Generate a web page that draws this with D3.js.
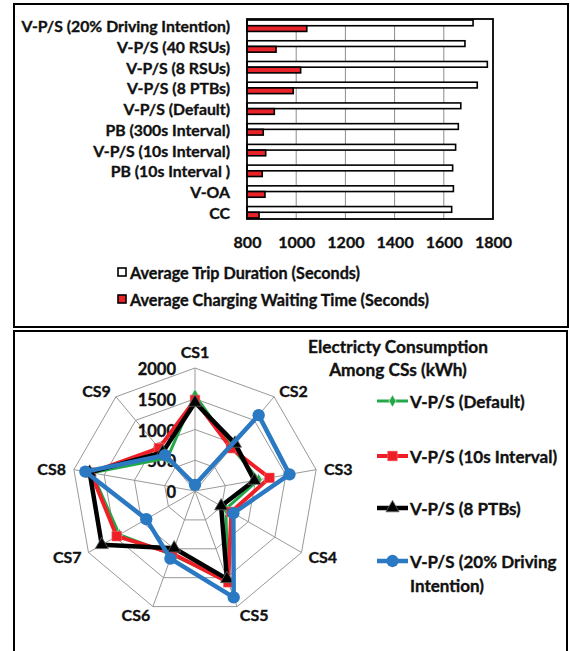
<!DOCTYPE html>
<html><head><meta charset="utf-8">
<script src="https://cdn.jsdelivr.net/npm/d3@7"></script>
<style>
html,body{margin:0;padding:0;background:#fff;}
svg{display:block;}
text{font-family:Lato,"Open Sans",sans-serif;font-weight:bold;fill:#111;stroke:#111;stroke-width:0.35px;}
</style></head>
<body>
<svg id="c" width="570" height="651"></svg>
<script>
// ---- Bar chart data ----
const barCategories = ["V-P/S (20% Driving Intention)","V-P/S (40 RSUs)","V-P/S (8 RSUs)","V-P/S (8 PTBs)","V-P/S (Default)","PB (300s Interval)","V-P/S (10s Interval)","PB (10s Interval )","V-OA","CC"];
const tripDuration = [1719,1686,1777,1736,1669,1659,1648,1636,1639,1632];
const chargingWait = [1043,918,1018,988,911,866,876,862,873,849];
const barTicks = [800,1000,1200,1400,1600,1800];
const barLegend = ["Average Trip Duration (Seconds)","Average Charging Waiting Time (Seconds)"];

// ---- Radar data ----
const csLabels = ["CS1","CS2","CS3","CS4","CS5","CS6","CS7","CS8","CS9"];
const radarTicks = [0,500,1000,1500,2000];
const seriesNames = ["V-P/S (Default)","V-P/S (10s Interval)","V-P/S (8 PTBs)","V-P/S (20% Driving Intention)"];
const sDefault  = [1560,930,1050,580,1550,1100,1420,1700,700];
const s10s      = [1480,910,1230,680,1580,1080,1470,1720,910];
const s8PTBs    = [1440,1010,980,490,1520,990,1750,1740,820];
const s20DI     = [100,1610,1560,720,1840,1170,915,1810,760];
const radarTitle = ["Electricty Consumption","Among CSs (kWh)"];

const svg = d3.select("#c");

// Panels
svg.append("rect").attr("x",14).attr("y",4).attr("width",554).attr("height",323)
  .attr("fill","none").attr("stroke","#000").attr("stroke-width",2);
svg.append("rect").attr("x",14).attr("y",331).attr("width",553).attr("height",340)
  .attr("fill","none").attr("stroke","#000").attr("stroke-width",2);

// ---- Bar chart ----
const x = d3.scaleLinear().domain([800,1800]).range([247,493]);
const y = d3.scaleBand().domain(barCategories).range([19,219]).paddingInner(0.45).paddingOuter(0.05);
const g1 = svg.append("g");
g1.selectAll("line.grid").data(barTicks.slice(1,-1)).enter().append("line")
  .attr("x1",d=>x(d)).attr("x2",d=>x(d)).attr("y1",19).attr("y2",219)
  .attr("stroke","#8c8c8c").attr("stroke-width",1);
const bh = y.bandwidth()/2;
g1.selectAll("rect.trip").data(barCategories).enter().append("rect")
  .attr("x",x(800)).attr("y",d=>y(d))
  .attr("width",(d,i)=>x(tripDuration[i])-x(800)).attr("height",bh)
  .attr("fill","#fff").attr("stroke","#000").attr("stroke-width",1.6);
g1.selectAll("rect.wait").data(barCategories).enter().append("rect")
  .attr("x",x(800)).attr("y",d=>y(d)+bh)
  .attr("width",(d,i)=>x(chargingWait[i])-x(800)).attr("height",bh)
  .attr("fill","#e8232a").attr("stroke","#000").attr("stroke-width",1.6);
g1.append("rect").attr("x",247).attr("y",19).attr("width",246).attr("height",200)
  .attr("fill","none").attr("stroke","#000").attr("stroke-width",1.8);
g1.selectAll("text.cat").data(barCategories).enter().append("text")
  .attr("x",230).attr("y",d=>y(d)+y.bandwidth()/2).attr("text-anchor","end")
  .attr("dominant-baseline","central").attr("font-size",15.8).text(d=>d);
const xAxis = d3.axisBottom(x).tickValues(barTicks).tickSize(0).tickPadding(0).tickFormat(d3.format("d"));
const ax = g1.append("g").attr("transform","translate(0,237)").call(xAxis);
ax.select(".domain").remove();
ax.selectAll("text").attr("font-size",16).attr("font-family","Lato").attr("font-weight","bold").attr("fill","#111");

// Bar legend
const lg = svg.append("g");
lg.selectAll("rect").data(barLegend).enter().append("rect")
  .attr("x",118).attr("y",(d,i)=>268+i*27).attr("width",8).attr("height",8)
  .attr("fill",(d,i)=>i===0?"#fff":"#e8232a").attr("stroke","#000").attr("stroke-width",1.6);
lg.selectAll("text").data(barLegend).enter().append("text")
  .attr("x",130).attr("y",(d,i)=>272+i*27).attr("dominant-baseline","central")
  .attr("font-size",16.2).text(d=>d);

// ---- Radar ----
const cx=195, cy=491;
const r = d3.scaleLinear().domain([0,2000]).range([0,123]);
const ang = d3.scaleLinear().domain([0,csLabels.length]).range([0,2*Math.PI]);
const pt = (i,v)=>[cx+r(v)*Math.sin(ang(i)), cy-r(v)*Math.cos(ang(i))];
const g2 = svg.append("g");
radarTicks.slice(1).forEach(t=>{
  g2.append("polygon").attr("points",csLabels.map((c,i)=>pt(i,t).join(",")).join(" "))
    .attr("fill","none").attr("stroke","#999").attr("stroke-width",1);
});
csLabels.forEach((c,i)=>{
  const p = pt(i,2000);
  g2.append("line").attr("x1",cx).attr("y1",cy).attr("x2",p[0]).attr("y2",p[1])
    .attr("stroke","#999").attr("stroke-width",1);
});
g2.selectAll("text.rt").data(radarTicks).enter().append("text")
  .attr("x",176).attr("y",d=>cy-r(d)+1).attr("text-anchor","end").attr("dominant-baseline","central")
  .attr("font-size",16.5).text(d=>d);
g2.selectAll("text.cs").data(csLabels).enter().append("text")
  .each(function(d,i){
    const p = pt(i,2000), s = Math.sin(ang(i)), c = Math.cos(ang(i));
    const t = d3.select(this);
    if(Math.abs(s)<0.05){
      t.attr("x",p[0]).attr("y",p[1]-17).attr("text-anchor","middle");
    } else {
      t.attr("x",p[0]+8*s).attr("y",p[1]-8*c).attr("text-anchor", s>0?"start":"end");
    }
  })
  .attr("dominant-baseline","central").attr("font-size",16).text(d=>d);

const series = [
  {name:seriesNames[0], vals:sDefault, color:"#25a84a", w:3, marker:"diamond"},
  {name:seriesNames[1], vals:s10s, color:"#ee1f26", w:4, marker:"square"},
  {name:seriesNames[2], vals:s8PTBs, color:"#000000", w:4.5, marker:"triangle"},
  {name:seriesNames[3], vals:s20DI, color:"#2a79c2", w:4.5, marker:"circle"}
];
const line = d3.lineRadial().angle((d,i)=>ang(i)).radius(d=>r(d)).curve(d3.curveLinearClosed);
const sym = {diamond:d3.symbolDiamond, square:d3.symbolSquare, triangle:d3.symbolTriangle, circle:d3.symbolCircle};
const symSize = {diamond:45, square:95, triangle:75, circle:120};
function marker(g, s, xx, yy){
  const p = g.append("path").attr("d",d3.symbol().type(sym[s.marker]).size(symSize[s.marker])())
    .attr("transform",`translate(${xx},${yy})`).attr("fill",s.color);
  if(s.marker==="diamond") p.attr("stroke","#fff").attr("stroke-width",0.6);
  if(s.marker==="triangle") p.attr("stroke","#666").attr("stroke-width",0.8);
  if(s.marker==="square") p.attr("stroke","#f08080").attr("stroke-width",0.5);
}
series.forEach(s=>{
  const gs = g2.append("g");
  gs.append("path").attr("d",line(s.vals)).attr("transform",`translate(${cx},${cy})`)
    .attr("fill","none").attr("stroke",s.color).attr("stroke-width",s.w).attr("stroke-linejoin","round");
  s.vals.forEach((v,i)=>{ const p=pt(i,v); marker(gs,s,p[0],p[1]); });
});

// Radar title
svg.selectAll("text.title").data(radarTitle).enter().append("text")
  .attr("x",398).attr("y",(d,i)=>346+i*23).attr("text-anchor","middle").attr("dominant-baseline","central")
  .attr("font-size",17.3).text(d=>d);

// Radar legend
const legY = [401,456,508,561];
series.forEach((s,i)=>{
  const gl = svg.append("g");
  gl.append("line").attr("x1",377).attr("x2",408).attr("y1",legY[i]).attr("y2",legY[i])
    .attr("stroke",s.color).attr("stroke-width",s.w);
  marker(gl,s,392.5,legY[i]);
  const parts = i===3 ? ["V-P/S (20% Driving","Intention)"] : [s.name];
  parts.forEach((t,k)=>{
    gl.append("text").attr("x",410).attr("y",legY[i]+k*24).attr("dominant-baseline","central")
      .attr("font-size",17).text(t);
  });
});
</script>
</body></html>
